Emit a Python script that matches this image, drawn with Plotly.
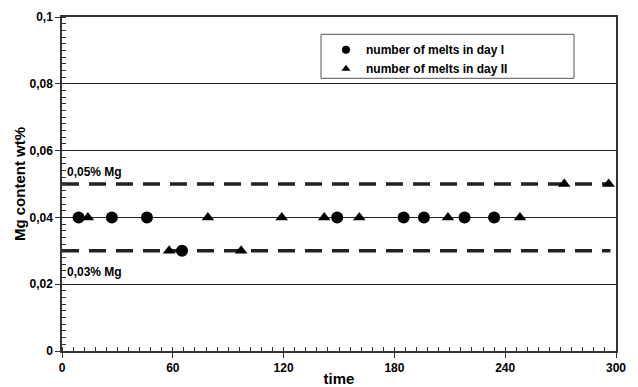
import plotly.graph_objects as go

# Data
day1_time = [9, 27, 46, 65, 149, 185, 196, 218, 234]
day1_mg = [0.04, 0.04, 0.04, 0.03, 0.04, 0.04, 0.04, 0.04, 0.04]
day2_time = [14, 58, 79, 97, 119, 142, 161, 209, 248, 272, 296]
day2_mg = [0.04, 0.03, 0.04, 0.03, 0.04, 0.04, 0.04, 0.04, 0.04, 0.05, 0.05]
limit_time = [0, 297]
upper_limit = [0.05, 0.05]
lower_limit = [0.03, 0.03]
y_tickvals = [0, 0.02, 0.04, 0.06, 0.08, 0.1]
y_ticktext = ["0", "0,02", "0,04", "0,06", "0,08", "0,1"]
x_tickvals = [0, 60, 120, 180, 240, 300]
series_names = ["number of melts in day I", "number of melts in day II"]

FONT = "Liberation Sans, Arial, sans-serif"
PW, PH = 554, 334  # plot area size in px

fig = go.Figure()
dash_style = dict(color="#222", width=3.5, dash="17px,10px")
fig.add_trace(go.Scatter(x=limit_time, y=upper_limit, mode="lines", line=dash_style,
                         showlegend=False, hoverinfo="skip"))
fig.add_trace(go.Scatter(x=limit_time, y=lower_limit, mode="lines", line=dash_style,
                         showlegend=False, hoverinfo="skip"))
fig.add_trace(go.Scatter(x=day1_time, y=day1_mg, mode="markers",
                         marker=dict(symbol="circle", size=12, color="black"),
                         showlegend=False))
fig.add_trace(go.Scatter(x=day2_time, y=day2_mg, mode="markers",
                         marker=dict(symbol="triangle-up", size=11, color="black"),
                         showlegend=False))
# legend-only entries
fig.add_trace(go.Scatter(x=[None], y=[None], mode="markers", name=series_names[0],
                         marker=dict(symbol="circle", size=8, color="black")))
fig.add_trace(go.Scatter(x=[None], y=[None], mode="markers", name=series_names[1],
                         marker=dict(symbol="triangle-up", size=8, color="black")))

# legend frame
fig.add_shape(type="rect", xref="paper", yref="paper",
              x0=(321 - 62) / PW, x1=(574 - 62) / PW,
              y0=(350.7 - 78) / PH, y1=(350.7 - 34) / PH,
              line=dict(color="#555", width=1), fillcolor="rgba(0,0,0,0)")

fig.add_annotation(x=1.5, y=0.05, xref="x", yref="y", text="0,05% Mg",
                   showarrow=False, xanchor="left", yanchor="bottom", yshift=3,
                   font=dict(family=FONT, size=12, color="black", weight="bold"))
fig.add_annotation(x=1.5, y=0.03, xref="x", yref="y", text="0,03% Mg",
                   showarrow=False, xanchor="left", yanchor="top", yshift=-12,
                   font=dict(family=FONT, size=12, color="black", weight="bold"))

fig.update_layout(
    width=630, height=379,
    margin=dict(l=54, r=22, t=9, b=36, autoexpand=False),
    paper_bgcolor="white", plot_bgcolor="white",
    font=dict(family=FONT, size=12, color="black", weight="bold"),
    showlegend=True,
    legend=dict(x=(326 - 62) / PW, y=(350.7 - 35) / PH, xanchor="left", yanchor="top",
                bgcolor="rgba(0,0,0,0)", borderwidth=0,
                font=dict(family=FONT, size=12, color="black", weight="bold"),
                itemwidth=30, tracegroupgap=0),
    xaxis=dict(range=[0, 300], tickvals=x_tickvals, ticktext=[str(v) for v in x_tickvals],
               automargin=False,
               showgrid=False, zeroline=False, showline=True, linecolor="#333", linewidth=1.5,
               mirror=True, ticks="outside", ticklen=5, tickcolor="#333",
               minor=dict(dtick=6, ticks="inside", ticklen=4, tickcolor="#333", showgrid=False),
               title=dict(text="time", font=dict(family=FONT, size=15, weight="bold"), standoff=0),
               tickfont=dict(family=FONT, size=12, weight="bold")),
    yaxis=dict(range=[0, 0.1], tickvals=y_tickvals, ticktext=y_ticktext,
               automargin=False,
               showgrid=True, gridcolor="#222", gridwidth=1, zeroline=False,
               showline=True, linecolor="#333", linewidth=1.5, mirror=True,
               ticks="outside", ticklen=5, tickcolor="#333",
               minor=dict(dtick=0.002, ticks="inside", ticklen=4, tickcolor="#333", showgrid=False),
               title=dict(text="Mg content wt%", font=dict(family=FONT, size=15, weight="bold"), standoff=0),
               tickfont=dict(family=FONT, size=12, weight="bold")),
)

fig.write_html("out.html")
